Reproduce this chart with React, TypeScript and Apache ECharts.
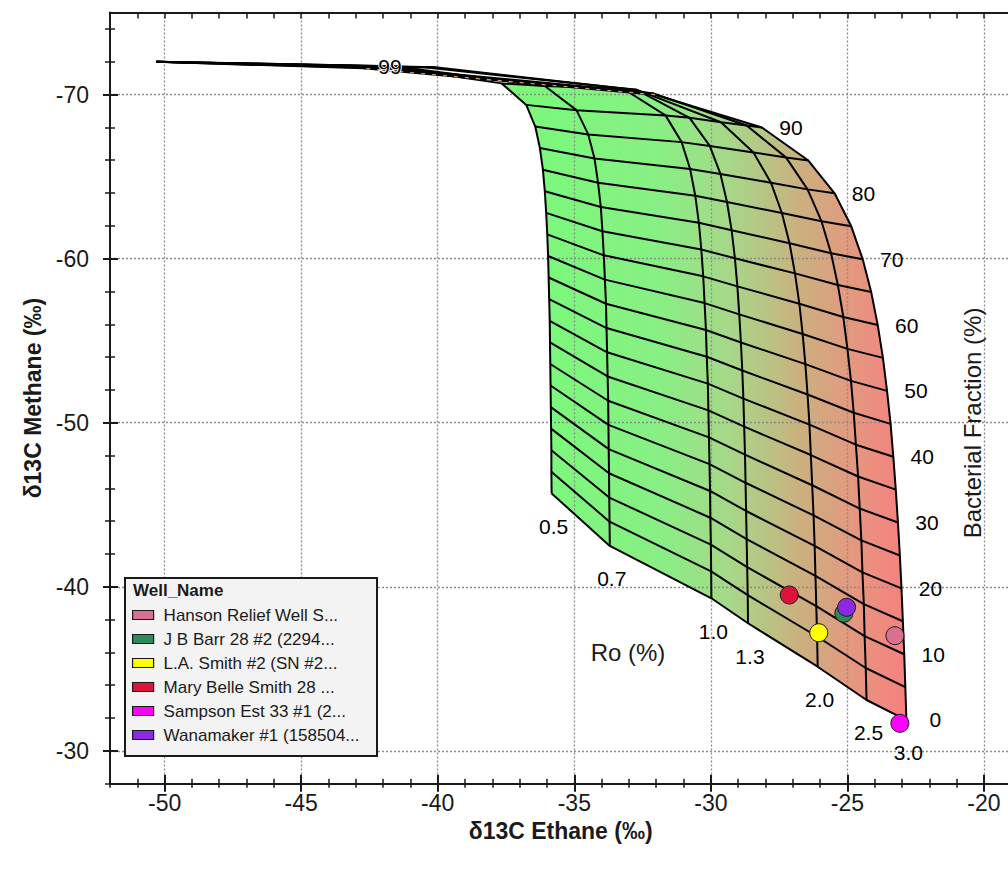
import { useEffect, useRef } from 'react';
import * as echarts from 'echarts';

const FONT = '"Liberation Sans", Arial, Helvetica, sans-serif';
const INK = '#1a1a1a';

// Thermal maturity (Ro, %) of each thermogenic mixing curve
const roLevels = ['0.5', '0.7', '1.0', '1.3', '2.0', '2.5', '3.0'];

// Bacterial fraction (%) of each grid row
const bacterialFractions = [0, 5, 10, 15, 20, 25, 30, 35, 40, 45, 50, 55, 60, 65, 70, 75, 80, 85, 90, 95, 99];

// δ13C ethane (‰) of the grid nodes, one list per Ro curve, in bacterialFractions order
const ethaneRo05 = [-35.83, -35.84, -35.84, -35.85, -35.86, -35.87, -35.88, -35.89, -35.9, -35.92, -35.94, -35.96, -35.99, -36.03, -36.08, -36.15, -36.26, -36.43, -36.76, -37.66, -42.04];
const ethaneRo07 = [-33.7, -33.71, -33.72, -33.73, -33.74, -33.75, -33.76, -33.78, -33.8, -33.82, -33.84, -33.88, -33.92, -33.97, -34.03, -34.13, -34.26, -34.49, -34.92, -36.08, -41.43];
const ethaneRo10 = [-29.98, -29.99, -30.0, -30.02, -30.03, -30.05, -30.07, -30.09, -30.11, -30.15, -30.18, -30.23, -30.28, -30.35, -30.44, -30.57, -30.76, -31.07, -31.66, -33.22, -40.09];
const ethaneRo13 = [-28.64, -28.65, -28.67, -28.69, -28.71, -28.73, -28.75, -28.78, -28.81, -28.85, -28.9, -28.96, -29.03, -29.12, -29.24, -29.41, -29.65, -30.04, -30.78, -32.72, -40.49];
const ethaneRo20 = [-26.09, -26.11, -26.14, -26.17, -26.2, -26.24, -26.29, -26.34, -26.39, -26.46, -26.54, -26.64, -26.76, -26.92, -27.12, -27.4, -27.8, -28.44, -29.63, -32.51, -41.9];
const ethaneRo25 = [-24.3, -24.33, -24.37, -24.4, -24.45, -24.49, -24.55, -24.61, -24.69, -24.77, -24.87, -25.0, -25.15, -25.35, -25.6, -25.95, -26.46, -27.25, -28.69, -32.11, -42.27];
const ethaneRo30 = [-22.84, -22.88, -22.92, -22.97, -23.02, -23.08, -23.15, -23.23, -23.32, -23.42, -23.55, -23.7, -23.89, -24.13, -24.44, -24.86, -25.47, -26.43, -28.13, -32.04, -42.72];

// δ13C methane (‰) of the grid nodes, same layout
const methaneRo05 = [-45.69, -47.01, -48.32, -49.64, -50.95, -52.27, -53.58, -54.9, -56.21, -57.53, -58.85, -60.16, -61.48, -62.79, -64.11, -65.42, -66.74, -68.05, -69.37, -70.68, -71.74];
const methaneRo07 = [-42.49, -43.97, -45.44, -46.92, -48.39, -49.87, -51.34, -52.82, -54.29, -55.77, -57.25, -58.72, -60.2, -61.67, -63.15, -64.62, -66.1, -67.57, -69.05, -70.52, -71.7];
const methaneRo10 = [-39.3, -40.94, -42.57, -44.21, -45.84, -47.48, -49.11, -50.75, -52.38, -54.02, -55.65, -57.29, -58.92, -60.56, -62.19, -63.83, -65.46, -67.1, -68.73, -70.37, -71.67];
const methaneRo13 = [-37.78, -39.49, -41.2, -42.91, -44.62, -46.34, -48.05, -49.76, -51.47, -53.18, -54.89, -56.6, -58.31, -60.02, -61.73, -63.45, -65.16, -66.87, -68.58, -70.29, -71.66];
const methaneRo20 = [-35.13, -36.97, -38.82, -40.66, -42.5, -44.35, -46.19, -48.03, -49.88, -51.72, -53.57, -55.41, -57.25, -59.1, -60.94, -62.78, -64.63, -66.47, -68.31, -70.16, -71.63];
const methaneRo25 = [-33.1, -35.05, -36.99, -38.94, -40.88, -42.83, -44.77, -46.72, -48.66, -50.61, -52.55, -54.5, -56.44, -58.39, -60.33, -62.28, -64.22, -66.17, -68.11, -70.06, -71.61];
const methaneRo30 = [-31.88, -33.89, -35.89, -37.9, -39.9, -41.91, -43.92, -45.92, -47.93, -49.93, -51.94, -53.95, -55.95, -57.96, -59.96, -61.97, -63.98, -65.98, -67.99, -69.99, -71.6];

// Pure bacterial gas [δ13C ethane, δ13C methane]
const bacterialEndMember = [-50.3, -72.0];

// Wells
const wellNames = [
  'Hanson Relief Well S...',
  'J B Barr 28 #2 (2294...',
  'L.A. Smith #2 (SN #2...',
  'Mary Belle Smith 28 ...',
  'Sampson Est 33 #1 (2...',
  'Wanamaker #1 (158504...',
];
const wellEthane = [-23.26, -25.13, -26.05, -27.13, -23.08, -25.03];
const wellMethane = [-37.02, -38.39, -37.2, -39.5, -31.68, -38.75];
const wellColors = ['#d8718f', '#2e8b57', '#ffff00', '#dc143c', '#ff00ff', '#8a2be2'];

// Axis tick labels
const xTickLabels = [-50, -45, -40, -35, -30, -25, -20];
const yTickLabels = [-70, -60, -50, -40, -30];

const ethaneGrid = [ethaneRo05, ethaneRo07, ethaneRo10, ethaneRo13, ethaneRo20, ethaneRo25, ethaneRo30];
const methaneGrid = [methaneRo05, methaneRo07, methaneRo10, methaneRo13, methaneRo20, methaneRo25, methaneRo30];

const node = (i: number, j: number) => [ethaneGrid[i][j], methaneGrid[i][j]];

const X_MIN = -52;
const X_MAX = -19;
const Y_MIN = -75;
const Y_MAX = -28;

function buildOption(): any {
  const lastRo = roLevels.length - 1;
  const topRow = bacterialFractions.indexOf(95);
  const lastRow = bacterialFractions.length - 1;

  const xMinor: number[] = [];
  for (let v = X_MIN; v <= X_MAX; v += 1) xMinor.push(v);
  const yMinor: number[] = [];
  for (let v = -74; v <= Y_MAX; v += 2) yMinor.push(v);

  // Outline of the shaded mixing surface (0 % row, Ro 3.0 curve, 95 % row, Ro 0.5 curve)
  const outline: number[][] = [];
  for (let i = 0; i <= lastRo; i++) outline.push(node(i, 0));
  for (let j = 1; j <= topRow; j++) outline.push(node(lastRo, j));
  for (let i = lastRo - 1; i >= 0; i--) outline.push(node(i, topRow));
  for (let j = topRow - 1; j >= 1; j--) outline.push(node(0, j));

  const gradientStops = [
    { offset: 0, color: '#7cf77c' },
    { offset: 0.3, color: '#88ef84' },
    { offset: 0.5, color: '#a6d889' },
    { offset: 0.7, color: '#cbb07f' },
    { offset: 0.86, color: '#e6967f' },
    { offset: 1, color: '#f77f7f' },
  ];

  const series: any[] = [];

  series.push({
    type: 'custom',
    name: 'surface',
    silent: true,
    z: 0,
    data: [node(0, 0)],
    renderItem: (_params: any, api: any) => {
      const pts = outline.map((p) => api.coord(p));
      const xl = api.coord(node(0, 0))[0];
      const xr = api.coord(node(lastRo, 0))[0];
      return {
        type: 'polygon',
        shape: { points: pts },
        style: {
          fill: new echarts.graphic.LinearGradient(xl, 0, xr, 0, gradientStops, true),
          stroke: 'none',
        },
      };
    },
  });

  const meshLine = { color: '#000', width: 2 };

  // Ro curves, running up to the bacterial end member
  roLevels.forEach((ro, i) => {
    series.push({
      type: 'line',
      name: 'Ro ' + ro,
      data: [...bacterialFractions.map((_f, j) => node(i, j)), bacterialEndMember],
      symbol: 'none',
      silent: true,
      z: 3,
      lineStyle: meshLine,
    });
  });

  // Bacterial fraction rows
  bacterialFractions.forEach((f, j) => {
    series.push({
      type: 'line',
      name: 'BF ' + f,
      data: roLevels.map((_r, i) => node(i, j)),
      symbol: 'none',
      silent: true,
      z: 3,
      lineStyle: meshLine,
    });
  });

  // Light dashed trace along the upper rim
  series.push({
    type: 'line',
    name: 'rim',
    data: [node(lastRo, topRow), node(lastRo, lastRow)],
    symbol: 'none',
    silent: true,
    z: 4,
    lineStyle: { color: '#caa074', width: 1.2, type: [4, 7] },
  });

  const labelText = {
    fontSize: 21,
    color: '#000',
    fontFamily: FONT,
    opacity: 1,
    align: 'center',
    verticalAlign: 'middle',
  };
  const dot = { color: '#000' };

  // Ro labels under the 0 % nodes
  series.push({
    type: 'scatter',
    name: 'Ro labels',
    silent: true,
    symbolSize: 0.1,
    itemStyle: dot,
    z: 5,
    data: roLevels.map((ro, i) => ({ value: node(i, 0), name: ro })),
    label: { show: true, position: [0, 0], offset: [2, 33], formatter: '{b}', ...labelText },
  });

  // Bacterial fraction labels beside the Ro 3.0 curve
  series.push({
    type: 'scatter',
    name: 'BF labels',
    silent: true,
    symbolSize: 0.1,
    itemStyle: dot,
    z: 5,
    data: bacterialFractions
      .map((f, j) => ({ f, j }))
      .filter((d) => d.f % 10 === 0 && d.f <= 90)
      .map((d) => ({ value: node(lastRo, d.j), name: String(d.f) })),
    label: { show: true, position: [0, 0], offset: [29, 0], formatter: '{b}', ...labelText },
  });

  series.push({
    type: 'scatter',
    name: 'top label',
    silent: true,
    symbolSize: 0.1,
    itemStyle: dot,
    z: 5,
    data: [{ value: node(0, lastRow), name: String(bacterialFractions[lastRow]) }],
    label: {
      show: true,
      position: [0, 0],
      offset: [8, 1],
      formatter: '{b}',
      ...labelText,
      textBorderColor: '#fff',
      textBorderWidth: 2,
    },
  });

  // Wells
  wellNames.forEach((name, k) => {
    series.push({
      type: 'scatter',
      name,
      data: [[wellEthane[k], wellMethane[k]]],
      symbol: 'circle',
      symbolSize: 18,
      z: 10,
      itemStyle: { color: wellColors[k], borderColor: INK, borderWidth: 1, opacity: 1 },
    });
  });

  const tickLine = { color: INK, width: 1.5 };
  const gridLine = { color: '#8c8c8c', width: 1.3, type: [2, 2] };
  const xBase = { type: 'value', min: X_MIN, max: X_MAX, gridIndex: 0 };
  const yBase = { type: 'value', min: Y_MIN, max: Y_MAX, inverse: true, gridIndex: 0 };
  const noLabel = { show: false };
  const noSplit = { show: false };
  const noLine = { show: false };

  const xAxis = [
    {
      ...xBase,
      position: 'bottom',
      z: 1,
      axisLine: { show: true, lineStyle: { color: INK, width: 2 } },
      axisTick: { show: true, inside: false, length: 4, customValues: xMinor, lineStyle: tickLine },
      axisLabel: { show: true, customValues: xTickLabels, margin: 8, fontSize: 23, color: INK, fontFamily: FONT },
      splitLine: noSplit,
      name: 'δ13C Ethane (‰)',
      nameLocation: 'middle',
      nameGap: 33,
      nameTextStyle: { fontSize: 23, fontWeight: 'bold', color: INK, fontFamily: FONT },
    },
    {
      ...xBase,
      position: 'bottom',
      z: 1,
      axisLine: noLine,
      axisTick: { show: true, inside: true, length: 5, customValues: xMinor, lineStyle: tickLine },
      axisLabel: noLabel,
      splitLine: noSplit,
    },
    {
      ...xBase,
      position: 'bottom',
      z: 1,
      axisLine: noLine,
      axisTick: { show: true, inside: false, length: 8, customValues: xTickLabels, lineStyle: { color: INK, width: 2 } },
      axisLabel: noLabel,
      splitLine: { show: true, lineStyle: gridLine },
    },
    {
      ...xBase,
      position: 'bottom',
      z: 1,
      axisLine: noLine,
      axisTick: { show: true, inside: true, length: 9, customValues: xTickLabels, lineStyle: { color: INK, width: 2 } },
      axisLabel: noLabel,
      splitLine: noSplit,
    },
    {
      ...xBase,
      position: 'top',
      z: 1,
      axisLine: { show: true, lineStyle: { color: INK, width: 2 } },
      axisTick: { show: true, inside: true, length: 6, customValues: xMinor, lineStyle: tickLine },
      axisLabel: noLabel,
      splitLine: noSplit,
    },
  ];

  const yAxis = [
    {
      ...yBase,
      position: 'left',
      z: 1,
      axisLine: { show: true, lineStyle: { color: INK, width: 2 } },
      axisTick: { show: true, inside: false, length: 5, customValues: yMinor, lineStyle: tickLine },
      axisLabel: { show: true, customValues: yTickLabels, margin: 21, fontSize: 23, color: INK, fontFamily: FONT },
      splitLine: noSplit,
      name: 'δ13C Methane (‰)',
      nameLocation: 'middle',
      nameGap: 58,
      nameTextStyle: { fontSize: 23, fontWeight: 'bold', color: INK, fontFamily: FONT },
    },
    {
      ...yBase,
      position: 'left',
      z: 1,
      axisLine: noLine,
      axisTick: { show: true, inside: true, length: 5, customValues: yMinor, lineStyle: tickLine },
      axisLabel: noLabel,
      splitLine: noSplit,
    },
    {
      ...yBase,
      position: 'left',
      z: 1,
      axisLine: noLine,
      axisTick: { show: true, inside: false, length: 7, customValues: yTickLabels, lineStyle: { color: INK, width: 2 } },
      axisLabel: noLabel,
      splitLine: { show: true, lineStyle: gridLine },
    },
    {
      ...yBase,
      position: 'left',
      z: 1,
      axisLine: noLine,
      axisTick: { show: true, inside: true, length: 8, customValues: yTickLabels, lineStyle: { color: INK, width: 2 } },
      axisLabel: noLabel,
      splitLine: noSplit,
    },
  ];

  return {
    animation: false,
    backgroundColor: '#ffffff',
    textStyle: { fontFamily: FONT },
    grid: { left: 110, top: 12.5, width: 901.3, height: 771.2, containLabel: false },
    xAxis,
    yAxis,
    legend: {
      data: wellNames,
      orient: 'vertical',
      left: 132,
      top: 605,
      z: 60,
      padding: 0,
      itemWidth: 21,
      itemHeight: 9,
      itemGap: 4,
      icon: 'rect',
      selectedMode: false,
      itemStyle: { borderColor: INK, borderWidth: 1.2 },
      textStyle: { fontSize: 17, lineHeight: 20, color: INK, fontFamily: FONT, padding: [0, 0, 0, 5] },
    },
    graphic: [
      {
        type: 'rect',
        left: 124,
        top: 577,
        z: 50,
        shape: { width: 252, height: 178 },
        style: { fill: '#f3f3f3', stroke: INK, lineWidth: 2 },
      },
      {
        type: 'text',
        left: 133,
        top: 582,
        z: 51,
        style: { text: 'Well_Name', font: 'bold 17px ' + FONT, fill: INK },
      },
      {
        type: 'text',
        x: 628,
        y: 652,
        z: 20,
        style: { text: 'Ro (%)', font: '24px ' + FONT, fill: INK, align: 'center', verticalAlign: 'middle' },
      },
      {
        type: 'text',
        x: 972,
        y: 423,
        rotation: Math.PI / 2,
        z: 20,
        style: { text: 'Bacterial Fraction (%)', font: '24px ' + FONT, fill: INK, align: 'center', verticalAlign: 'middle' },
      },
    ],
    series,
  };
}

export default function App() {
  const ref = useRef<HTMLDivElement>(null);

  useEffect(() => {
    if (!ref.current) return;
    const chart = echarts.init(ref.current, null, { renderer: 'svg' });
    chart.setOption(buildOption());
    return () => {
      chart.dispose();
    };
  }, []);

  return (
    <div
      style={{
        position: 'fixed',
        left: 0,
        top: 0,
        width: 1008,
        height: 871,
        overflow: 'hidden',
        background: '#ffffff',
      }}
    >
      <div ref={ref} style={{ width: 1040, height: 871 }} />
    </div>
  );
}
